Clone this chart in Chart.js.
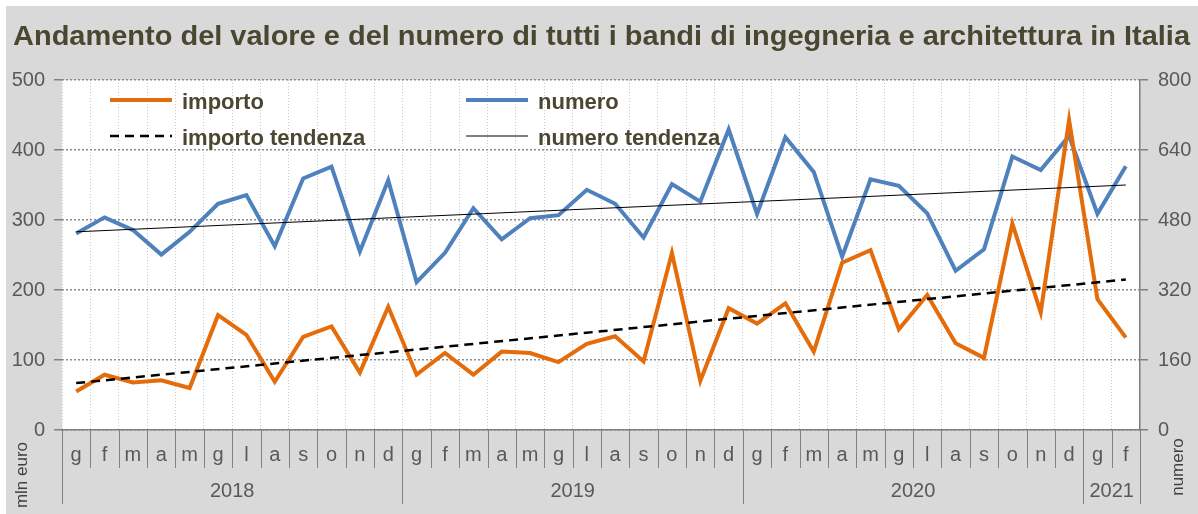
<!DOCTYPE html>
<html>
<head>
<meta charset="utf-8">
<script src="https://cdn.jsdelivr.net/npm/chart.js@4.4.1/dist/chart.umd.min.js"></script>
<style>
  html, body { margin: 0; padding: 0; background: #fff; }
  #wrap { width: 1198px; height: 514px; position: relative; }
</style>
</head>
<body>
<div id="wrap"><canvas id="chart" width="1198" height="514"></canvas></div>
<script>
// mesi gen 2018 – feb 2021
const MONTHS = [
  'g', 'f', 'm', 'a', 'm', 'g', 'l', 'a', 's', 'o', 'n', 'd',
  'g', 'f', 'm', 'a', 'm', 'g', 'l', 'a', 's', 'o', 'n', 'd',
  'g', 'f', 'm', 'a', 'm', 'g', 'l', 'a', 's', 'o', 'n', 'd',
  'g', 'f',
];
const YEARS = ['2018', '2019', '2020', '2021'];
const YEAR_SPANS = [12, 12, 12, 2];

// importo (mln euro, asse sinistro)
const IMPORTO = [
  55, 79, 68, 71, 60, 164, 136, 69, 133, 148, 82, 176,
  79, 110, 79, 112, 110, 97, 123, 134, 98, 253, 70, 174,
  152, 181, 112, 239, 257, 144, 193, 124, 103, 295, 168, 443,
  187, 132,
];
// numero bandi (asse destro)
const NUMERO = [
  449, 486, 457, 401, 453, 517, 537, 420, 575, 602, 408, 571,
  338, 405, 507, 436, 484, 491, 549, 517, 440, 562, 522, 687,
  494, 669, 590, 396, 573, 558, 495, 364, 413, 625, 594, 672,
  494, 603,
];
// linee di tendenza: valore al primo e all'ultimo mese
const IMPORTO_TREND = [67, 215];
const NUMERO_TREND = [453, 560];

const LEFT_TICKS = [0, 100, 200, 300, 400, 500];
const RIGHT_TICKS = [0, 160, 320, 480, 640, 800];

const ORANGE = '#E46C0A';
const BLUE = '#4F81BD';
const TEXT_DARK = '#4a4731';
const TEXT_GRAY = '#595959';
const AXIS_GRAY = '#808080';
const FONT = '"Liberation Sans", Arial, sans-serif';

function trendSeries(ends) {
  const arr = MONTHS.map(() => null);
  arr[0] = ends[0];
  arr[arr.length - 1] = ends[1];
  return arr;
}

const decor = {
  id: 'decor',
  beforeDraw(chart) {
    const { ctx, chartArea: a } = chart;
    ctx.save();
    ctx.fillStyle = '#ffffff';
    ctx.fillRect(0, 0, chart.width, chart.height);
    ctx.fillStyle = '#d9d9d9';
    ctx.fillRect(6, 6, chart.width - 6, chart.height - 6);
    ctx.fillStyle = '#ffffff';
    ctx.fillRect(a.left, a.top, a.right - a.left, a.bottom - a.top);
    ctx.restore();
  },
  afterDraw(chart) {
    const { ctx, chartArea: a } = chart;
    const xs = chart.scales.x;
    const step = (a.right - a.left) / MONTHS.length;
    ctx.save();

    // titolo, allargato fino al bordo destro come nell'originale
    const title = 'Andamento del valore e del numero di tutti i bandi di ingegneria e architettura in Italia';
    ctx.font = `bold 28px ${FONT}`;
    ctx.fillStyle = TEXT_DARK;
    ctx.textBaseline = 'alphabetic';
    ctx.textAlign = 'left';
    const tw = ctx.measureText(title).width;
    ctx.save();
    ctx.translate(13, 45);
    ctx.scale(1177 / tw, 1);
    ctx.fillText(title, 0, 0);
    ctx.restore();

    // legenda
    const legend = [
      { x: 110, y: 100, text: 'importo', color: ORANGE, width: 4, dash: [] },
      { x: 110, y: 136, text: 'importo tendenza', color: '#000', width: 2.5, dash: [9, 6] },
      { x: 466, y: 100, text: 'numero', color: BLUE, width: 4, dash: [] },
      { x: 466, y: 136, text: 'numero tendenza', color: '#000', width: 1, dash: [] },
    ];
    ctx.font = `bold 22px ${FONT}`;
    legend.forEach(l => {
      ctx.beginPath();
      ctx.setLineDash(l.dash);
      ctx.lineWidth = l.width;
      ctx.strokeStyle = l.color;
      ctx.lineCap = 'butt';
      ctx.moveTo(l.x, l.y);
      ctx.lineTo(l.x + 62, l.y);
      ctx.stroke();
      ctx.setLineDash([]);
      ctx.fillStyle = TEXT_DARK;
      ctx.fillText(l.text, l.x + 72, l.y + 9);
    });

    // separatori e etichette dei mesi
    ctx.strokeStyle = AXIS_GRAY;
    ctx.lineWidth = 1;
    const yearBounds = new Set([0]);
    let acc = 0;
    YEAR_SPANS.forEach(n => { acc += n; yearBounds.add(acc); });
    for (let i = 0; i <= MONTHS.length; i++) {
      const x = Math.round(a.left + i * step) + 0.5;
      ctx.beginPath();
      ctx.moveTo(x, a.bottom);
      ctx.lineTo(x, yearBounds.has(i) ? 504 : 468);
      ctx.stroke();
    }
    ctx.font = `20px ${FONT}`;
    ctx.fillStyle = TEXT_GRAY;
    ctx.textAlign = 'center';
    MONTHS.forEach((m, i) => {
      ctx.fillText(m, xs.getPixelForValue(i), 461);
    });
    let start = 0;
    YEARS.forEach((y, k) => {
      const x0 = a.left + start * step;
      const x1 = a.left + (start + YEAR_SPANS[k]) * step;
      ctx.fillText(y, (x0 + x1) / 2, 497);
      start += YEAR_SPANS[k];
    });

    // titoli degli assi (ruotati)
    ctx.font = `17px ${FONT}`;
    ctx.fillStyle = '#404040';
    ctx.textBaseline = 'middle';
    ctx.save();
    ctx.translate(22, 475);
    ctx.rotate(-Math.PI / 2);
    ctx.fillText('mln euro', 0, 0);
    ctx.restore();
    ctx.save();
    ctx.translate(1178, 467);
    ctx.rotate(-Math.PI / 2);
    ctx.fillText('numero', 0, 0);
    ctx.restore();

    ctx.restore();
  },
};

new Chart(document.getElementById('chart'), {
  type: 'line',
  data: {
    labels: MONTHS,
    datasets: [
      {
        label: 'importo tendenza',
        data: trendSeries(IMPORTO_TREND),
        yAxisID: 'y',
        borderColor: '#000',
        borderWidth: 2.5,
        borderDash: [9, 6],
        spanGaps: true,
        pointRadius: 0,
        order: 1,
      },
      {
        label: 'numero tendenza',
        data: trendSeries(NUMERO_TREND),
        yAxisID: 'y1',
        borderColor: '#000',
        borderWidth: 1,
        spanGaps: true,
        pointRadius: 0,
        order: 0,
      },
      {
        label: 'numero',
        data: NUMERO,
        yAxisID: 'y1',
        borderColor: BLUE,
        borderWidth: 4,
        pointRadius: 0,
        tension: 0,
        order: 3,
      },
      {
        label: 'importo',
        data: IMPORTO,
        yAxisID: 'y',
        borderColor: ORANGE,
        borderWidth: 4,
        pointRadius: 0,
        tension: 0,
        order: 2,
      },
    ],
  },
  options: {
    responsive: false,
    animation: false,
    layout: { padding: { top: 80, left: 0, right: 0, bottom: 0 } },
    plugins: {
      legend: { display: false },
      title: { display: false },
      tooltip: { enabled: false },
    },
    scales: {
      x: {
        offset: true,
        grid: {
          offset: true,
          color: '#c8c8c8',
          lineWidth: 1,
          drawTicks: false,
        },
        border: { display: true, color: AXIS_GRAY, width: 1.5, dash: [1, 2] },
        ticks: { display: false },
        afterFit(s) { s.height = 84; },
      },
      y: {
        position: 'left',
        min: 0,
        max: 500,
        afterBuildTicks(s) { s.ticks = LEFT_TICKS.map(v => ({ value: v })); },
        grid: {
          color: '#8c8c8c',
          lineWidth: 1.5,
          tickLength: 8,
          tickColor: AXIS_GRAY,
          tickBorderDash: [],
        },
        border: { display: false, dash: [2, 2] },
        ticks: {
          color: TEXT_GRAY,
          font: { family: FONT, size: 20 },
          padding: 9,
        },
        afterFit(s) { s.width = 62; },
      },
      y1: {
        position: 'right',
        min: 0,
        max: 800,
        afterBuildTicks(s) { s.ticks = RIGHT_TICKS.map(v => ({ value: v })); },
        grid: {
          drawOnChartArea: false,
          tickLength: 8,
          tickColor: AXIS_GRAY,
          lineWidth: 1.5,
        },
        border: { display: true, color: AXIS_GRAY, width: 1.5 },
        ticks: {
          color: TEXT_GRAY,
          font: { family: FONT, size: 20 },
          padding: 10,
        },
        afterFit(s) { s.width = 58; },
      },
    },
  },
  plugins: [decor],
});
</script>
</body>
</html>
